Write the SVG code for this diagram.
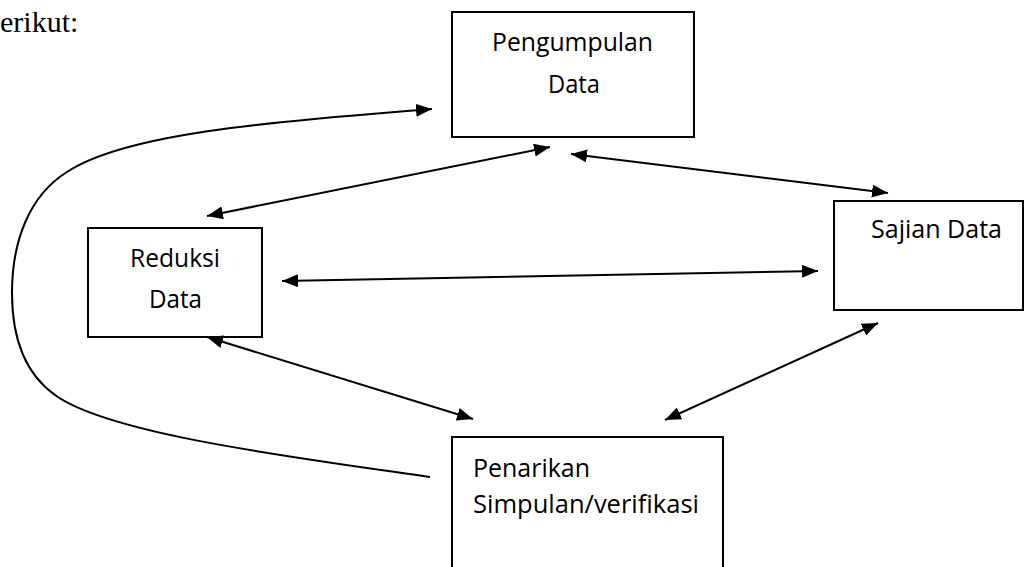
<svg xmlns="http://www.w3.org/2000/svg" width="1029" height="567" viewBox="0 0 1029 567">
  <defs>
    <marker id="head" viewBox="0 0 16 13" refX="16" refY="6.5" markerWidth="16" markerHeight="13" markerUnits="userSpaceOnUse" orient="auto-start-reverse">
      <path d="M0,0 L16,6.5 L0,13 z" fill="#000"/>
    </marker>
    <style>
      .box { fill: #fff; stroke: #000; stroke-width: 2; }
      .label { font-family: "Open Sans", "Noto Sans", "Liberation Sans", sans-serif; font-size: 25px; fill: #000; }
      .intro { font-family: "Liberation Serif", "Times New Roman", serif; font-size: 30px; fill: #000; }
      .link { fill: none; stroke: #000; stroke-width: 2; }
    </style>
  </defs>
  <rect width="1029" height="567" fill="#fff"/>

  <text class="intro" x="0" y="32">erikut:</text>

  <g id="pengumpulan-data">
    <rect class="box" x="452" y="12" width="242" height="125"/>
    <text class="label" x="492" y="51" textLength="161" lengthAdjust="spacingAndGlyphs">Pengumpulan</text>
    <text class="label" x="548" y="93" textLength="52" lengthAdjust="spacingAndGlyphs">Data</text>
  </g>

  <g id="reduksi-data">
    <rect class="box" x="88" y="228" width="174" height="109"/>
    <text class="label" x="130" y="267" textLength="90" lengthAdjust="spacingAndGlyphs">Reduksi</text>
    <text class="label" x="149" y="308" textLength="53" lengthAdjust="spacingAndGlyphs">Data</text>
  </g>

  <g id="sajian-data">
    <rect class="box" x="834" y="201" width="189" height="109"/>
    <text class="label" x="871" y="238" textLength="131" lengthAdjust="spacingAndGlyphs">Sajian Data</text>
  </g>

  <g id="penarikan-simpulan">
    <rect class="box" x="452" y="437" width="271" height="140"/>
    <text class="label" x="473" y="477" textLength="117" lengthAdjust="spacingAndGlyphs">Penarikan</text>
    <text class="label" x="473" y="513" textLength="226" lengthAdjust="spacingAndGlyphs">Simpulan/verifikasi</text>
  </g>

  <g id="connectors">
    <path class="link" marker-end="url(#head)" d="M430,477 C300,458 110,435 55,395 C20,370 12,330 12,293 C12,240 30,195 67,172 C130,130 300,120 432,109"/>
    <line class="link" marker-start="url(#head)" marker-end="url(#head)" x1="550" y1="147" x2="207" y2="216"/>
    <line class="link" marker-start="url(#head)" marker-end="url(#head)" x1="571" y1="154" x2="888" y2="193"/>
    <line class="link" marker-start="url(#head)" marker-end="url(#head)" x1="282" y1="281" x2="818" y2="271"/>
    <line class="link" marker-start="url(#head)" marker-end="url(#head)" x1="207" y1="337" x2="473" y2="419"/>
    <line class="link" marker-start="url(#head)" marker-end="url(#head)" x1="878" y1="323" x2="665" y2="420"/>
  </g>
</svg>
